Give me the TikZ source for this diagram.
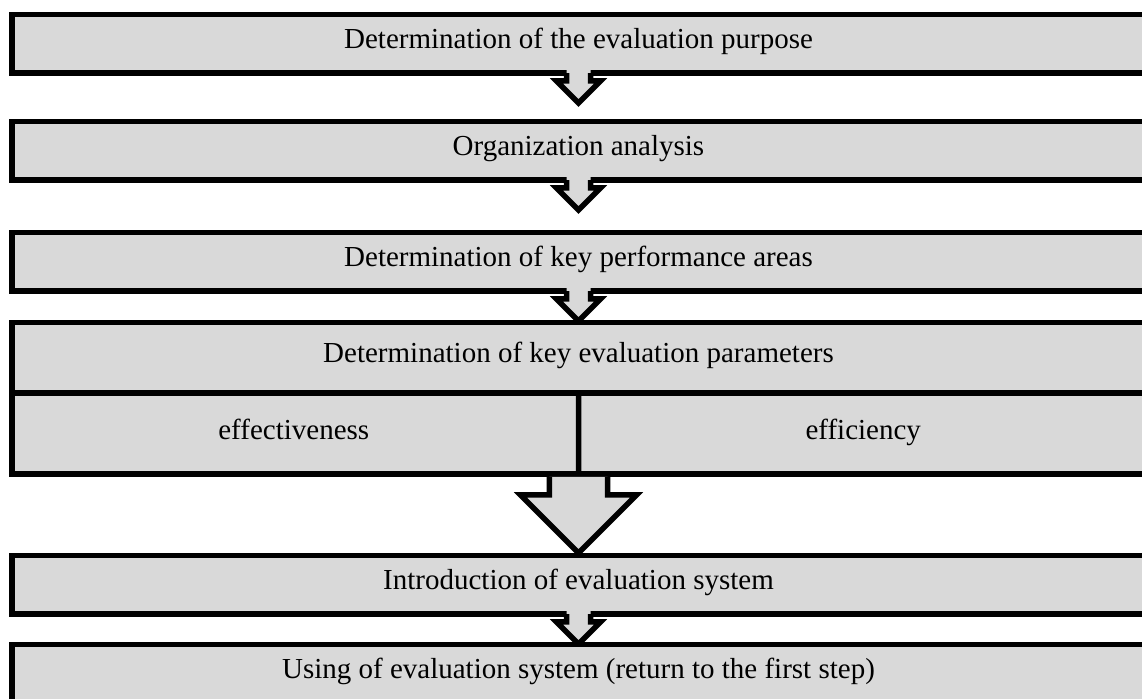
\documentclass[tikz,border=0pt]{standalone}
\usepackage{fontspec}
\setmainfont{Liberation Serif}
\usepackage{tikz}
\usetikzlibrary{positioning,calc}
\definecolor{boxgray}{RGB}{217,217,217}
\tikzset{
    block/.style  = {draw=black, line width=2.75pt, fill=boxgray,
            minimum width=566.75pt, minimum height=29.25pt,
            inner sep=0pt, align=center, txt},
    txt/.style    = {font=\fontsize{14.5pt}{17pt}\selectfont,
            text height=0.68em, text depth=0.22em},
    divide/.style = {draw=black, line width=2.75pt},
    arrowline/.style = {draw=black, line width=2.75pt},
    arrowfill/.style = {fill=boxgray},
}
% small block arrow hanging from the bottom of a box
\newcommand{\smallArrow}[1]{%
    \fill[arrowfill] ($(#1.south)+(-6pt,4.5pt)$) -- ++(0,-7pt) -- ++(-5pt,0)
        -- ++(11pt,-11pt) -- ++(11pt,11pt) -- ++(-5pt,0) -- ++(0,7pt) -- cycle;
    \draw[arrowline] ($(#1.south)+(-6pt,1.375pt)$) -- ++(0,-3.875pt) -- ++(-5pt,0)
        -- ++(11pt,-11pt) -- ++(11pt,11pt) -- ++(-5pt,0) -- ++(0,3.875pt);
}

\begin{document}
\begin{tikzpicture}
            \useasboundingbox (0,0) rectangle (571pt,-349.5pt);
            \begin{scope}
                % Nodes and arrows, top to bottom
                \node[block] (purpose) at (289.25pt,-22pt) {Determination of the evaluation purpose};
                \smallArrow{purpose}
                \node[block, below=21.5pt of purpose] (analysis) {Organization analysis};
                \smallArrow{analysis}
                \node[block, below=23.5pt of analysis] (areas) {Determination of key performance areas};
                \smallArrow{areas}
                \node[block, minimum height=75.75pt, below=13pt of areas] (params) {};
                \coordinate (split) at ($(params.north)!0.465!(params.south)$);
                \node[txt] (paramsTitle) at ($(params.north)!0.24!(params.south)$) {Determination of key evaluation parameters};
                \node[txt] (effectiveness) at ($(params.south west)!0.5!(split)$) {effectiveness};
                \node[txt] (efficiency) at ($(params.south east)!0.5!(split)$) {efficiency};
                \draw[divide] (params.west |- split) -- (params.east |- split);
                \draw[divide] (split) -- (params.south);
                % big arrow
                \draw[arrowline, fill=boxgray] ($(params.south)+(-14.6pt,0)$) -- ++(0,-9pt) -- ++(-14.4pt,0)
                    -- ++(29pt,-29pt) -- ++(29pt,29pt) -- ++(-14.4pt,0) -- ++(0,9pt);
                \node[block, below=38pt of params] (intro) {Introduction of evaluation system};
                \smallArrow{intro}
                \node[block, below=12.5pt of intro] (usage) {Using of evaluation system (return to the first step)};
            \end{scope}
        \end{tikzpicture}
\end{document}
